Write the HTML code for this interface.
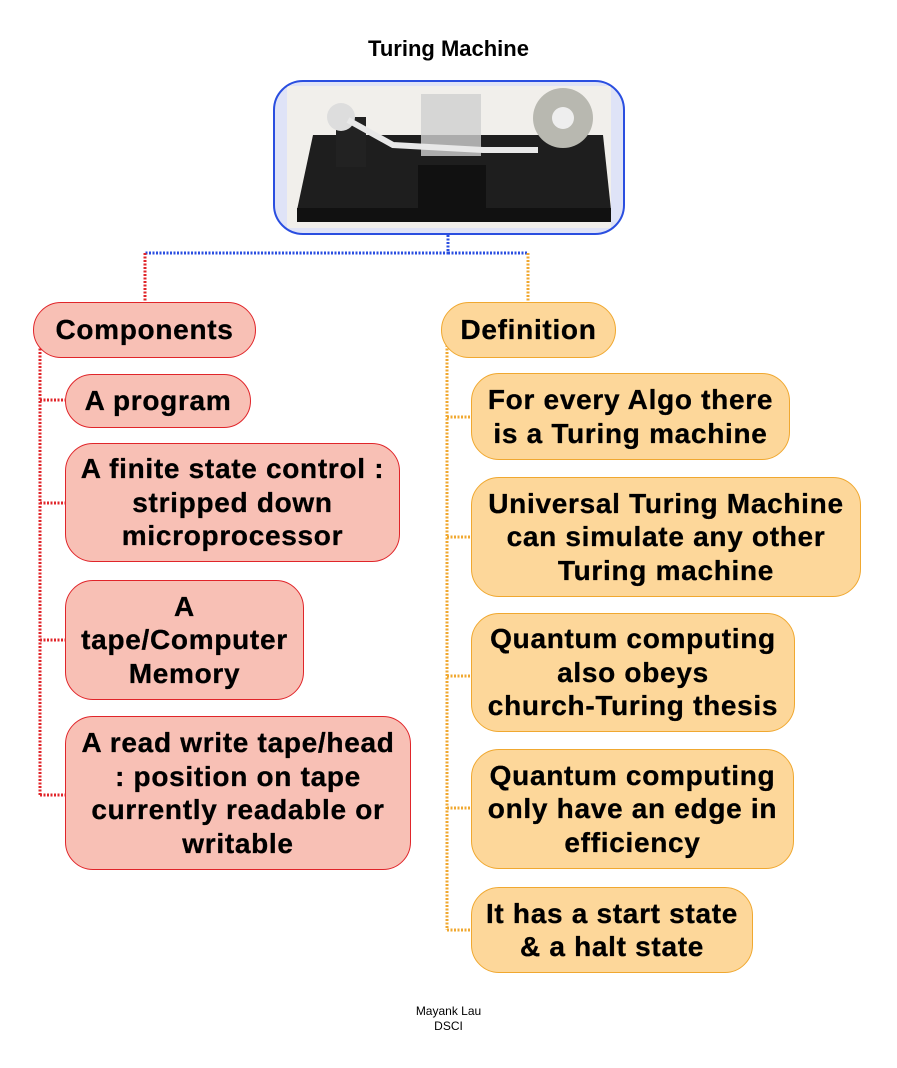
<!DOCTYPE html>
<html><head><meta charset="utf-8"><style>
body{margin:0;width:897px;height:1068px;background:#fff;position:relative;font-family:"Liberation Sans",Arial,sans-serif;overflow:hidden}
.b{position:absolute;box-sizing:border-box;display:flex;align-items:center;justify-content:center;text-align:center;font-weight:bold;font-size:28px;letter-spacing:0.7px;line-height:33.5px;color:#000;white-space:nowrap;-webkit-text-stroke:0.3px #000}
.r{background:#f8c0b5;border:1.5px solid #e0252a;border-radius:28px}
.o{background:#fdd79a;border:1.5px solid #f0a830;border-radius:28px}
.l{position:absolute}
</style></head><body>
<div style="position:absolute;left:0;width:897px;top:36px;text-align:center;font-weight:bold;font-size:22px">Turing Machine</div>
<div style="position:absolute;left:273px;top:80px;width:352px;height:155px;box-sizing:border-box;border:2px solid #2a4ee0;border-radius:30px;background:#dfe3f7;overflow:hidden">
<svg width="352" height="155" style="position:absolute;left:-2px;top:-2px">
<rect x="14" y="6" width="324" height="142" fill="#f1efeb"/>
<polygon points="40,55 330,55 338,130 24,130" fill="#1e1e1e"/>
<rect x="24" y="128" width="314" height="14" fill="#111"/>
<rect x="63" y="37" width="30" height="50" fill="#222"/>
<circle cx="68" cy="37" r="14" fill="#ddd"/>
<circle cx="290" cy="38" r="30" fill="#b8b8b0"/>
<circle cx="290" cy="38" r="11" fill="#eee"/>
<rect x="145" y="85" width="68" height="45" fill="#111"/>
<rect x="148" y="14" width="60" height="62" fill="#cfcfcf" opacity=".8"/>
<path d="M75,40 L120,65 L210,70 L265,70" stroke="#e8e8e8" stroke-width="6" fill="none"/>
</svg></div>
<svg class="l" width="897" height="1068" style="left:0;top:0">
<g fill="none" stroke-width="3" stroke-dasharray="2,1.5">
<path d="M448,235V253H145" stroke="#2a4ee0"/>
<path d="M448,253H528" stroke="#2a4ee0"/>
<path d="M145,253V302" stroke="#e0252a"/>
<path d="M528,253V302" stroke="#f0a830"/>
<path d="M40,345V795M40,400H65M40,503H65M40,640H65M40,795H65" stroke="#e0252a"/>
<path d="M447,345V930M447,417H471M447,537H471M447,676H471M447,808H471M447,930H471" stroke="#f0a830"/>
</g></svg>
<div class="b r" style="left:33px;top:302px;width:223px;height:56px">Components</div>
<div class="b r" style="left:65px;top:374px;width:186px;height:54px">A program</div>
<div class="b r" style="left:65px;top:443px;width:335px;height:119px">A finite state control :<br>stripped down<br>microprocessor</div>
<div class="b r" style="left:65px;top:580px;width:239px;height:120px">A<br>tape/Computer<br>Memory</div>
<div class="b r" style="left:65px;top:716px;width:346px;height:154px">A read write tape/head<br>: position on tape<br>currently readable or<br>writable</div>
<div class="b o" style="left:441px;top:302px;width:175px;height:56px">Definition</div>
<div class="b o" style="left:471px;top:373px;width:319px;height:87px">For every Algo there<br>is a Turing machine</div>
<div class="b o" style="left:471px;top:477px;width:390px;height:120px">Universal Turing Machine<br>can simulate any other<br>Turing machine</div>
<div class="b o" style="left:471px;top:613px;width:324px;height:119px">Quantum computing<br>also obeys<br>church-Turing thesis</div>
<div class="b o" style="left:471px;top:749px;width:323px;height:120px">Quantum computing<br>only have an edge in<br>efficiency</div>
<div class="b o" style="left:471px;top:887px;width:282px;height:86px">It has a start state<br>&amp; a halt state</div>
<div style="position:absolute;left:0;width:897px;top:1004px;text-align:center;font-size:12px;line-height:15px">Mayank Lau<br>DSCI</div>
</body></html>
